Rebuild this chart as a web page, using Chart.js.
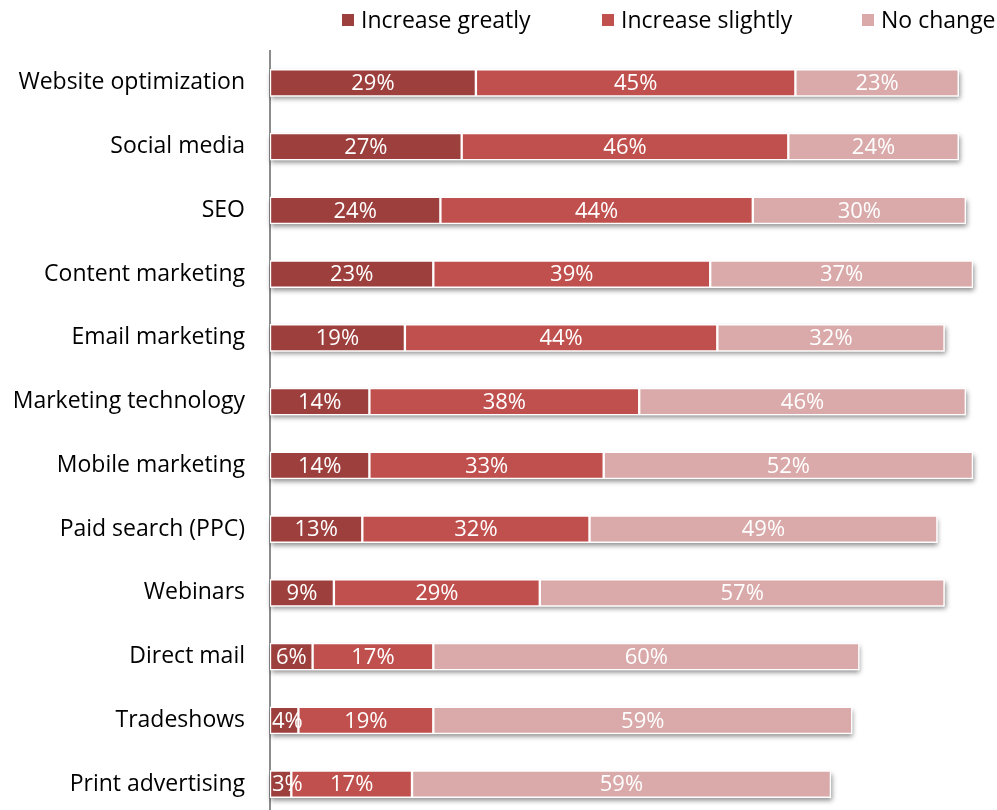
<!DOCTYPE html>
<html>
<head>
<meta charset="utf-8">
<script src="https://cdn.jsdelivr.net/npm/chart.js@4/dist/chart.umd.min.js"></script>
<style>
  html, body { margin: 0; padding: 0; background: #fff; overflow: hidden; }
  #c { display: block; }
</style>
</head>
<body>
<canvas id="c" width="997" height="816"></canvas>
<script>
const categories = [
  'Website optimization', 'Social media', 'SEO', 'Content marketing',
  'Email marketing', 'Marketing technology', 'Mobile marketing',
  'Paid search (PPC)', 'Webinars', 'Direct mail', 'Tradeshows', 'Print advertising'
];
const seriesNames = ['Increase greatly', 'Increase slightly', 'No change'];
const increaseGreatly  = [29, 27, 24, 23, 19, 14, 14, 13, 9, 6, 4, 3];
const increaseSlightly = [45, 46, 44, 39, 44, 38, 33, 32, 29, 17, 19, 17];
const noChange         = [23, 24, 30, 37, 32, 46, 52, 49, 57, 60, 59, 59];
const seriesColors = ['#9D403D', '#C0504D', '#D9AAA9'];

const FONT = '"Open Sans", sans-serif';
const FONT_SIZE = 23;

const shadowPlugin = {
  id: 'barShadow',
  beforeDatasetsDraw(chart) {
    const ctx = chart.ctx;
    const xs = chart.scales.x;
    const meta = chart.getDatasetMeta(0);
    ctx.save();
    ctx.shadowColor = 'rgba(0,0,0,0.45)';
    ctx.shadowBlur = 5;
    ctx.shadowOffsetX = 1;
    ctx.shadowOffsetY = 3;
    ctx.fillStyle = '#ffffff';
    categories.forEach((c, i) => {
      const total = chart.data.datasets.reduce((s, d) => s + d.data[i], 0);
      const el = meta.data[i];
      const h = el.height;
      const x0 = xs.getPixelForValue(0);
      const x1 = xs.getPixelForValue(total);
      ctx.fillRect(x0, el.y - h / 2, x1 - x0, h);
    });
    ctx.restore();
  }
};

const labelPlugin = {
  id: 'segLabels',
  afterDatasetsDraw(chart) {
    const ctx = chart.ctx;
    const left = chart.chartArea.left;
    ctx.save();
    ctx.font = '22px ' + FONT;
    ctx.fillStyle = '#ffffff';
    ctx.textAlign = 'center';
    ctx.textBaseline = 'middle';
    chart.data.datasets.forEach((ds, di) => {
      const meta = chart.getDatasetMeta(di);
      meta.data.forEach((el, i) => {
        const txt = ds.data[i] + '%';
        const w = ctx.measureText(txt).width;
        let cx = (el.x + el.base) / 2;
        cx = Math.max(cx, left + 2 + w / 2);
        ctx.fillText(txt, cx, el.y + 1);
      });
    });
    ctx.restore();
  }
};

const legendPlugin = {
  id: 'fixedLegend',
  afterDraw(chart) {
    const ctx = chart.ctx;
    ctx.save();
    ctx.font = FONT_SIZE + 'px ' + FONT;
    ctx.textBaseline = 'middle';
    ctx.textAlign = 'left';
    const startX = 342, step = 260, y = 20;
    chart.data.datasets.forEach((ds, i) => {
      const x = startX + i * step;
      ctx.fillStyle = ds.backgroundColor;
      ctx.fillRect(x, y - 6, 12, 12);
      ctx.fillStyle = '#000000';
      ctx.fillText(ds.label, x + 19, y + 1);
    });
    ctx.restore();
  }
};

new Chart(document.getElementById('c'), {
  type: 'bar',
  data: {
    labels: categories,
    datasets: [
      { label: seriesNames[0], data: increaseGreatly, backgroundColor: seriesColors[0] },
      { label: seriesNames[1], data: increaseSlightly, backgroundColor: seriesColors[1] },
      { label: seriesNames[2], data: noChange, backgroundColor: seriesColors[2] }
    ].map(d => Object.assign(d, {
      borderColor: '#ffffff', borderWidth: 1.5, borderSkipped: false, barThickness: 27
    }))
  },
  options: {
    indexAxis: 'y',
    responsive: false,
    animation: false,
    layout: { padding: { top: 51, right: 17, bottom: 0, left: 0 } },
    plugins: {
      legend: { display: false },
      tooltip: { enabled: false }
    },
    scales: {
      x: { stacked: true, min: 0, max: 100, display: false },
      y: {
        stacked: true,
        afterFit(scale) {
          scale.width = 270;
          scale.paddingTop = 0;
          scale.paddingBottom = 0;
        },
        grid: { display: false, drawTicks: false },
        border: { display: true, color: '#8c8c8c', width: 2 },
        ticks: { color: '#000000', font: { family: FONT, size: FONT_SIZE }, padding: 25 }
      }
    }
  },
  plugins: [shadowPlugin, labelPlugin, legendPlugin]
});
</script>
</body>
</html>
